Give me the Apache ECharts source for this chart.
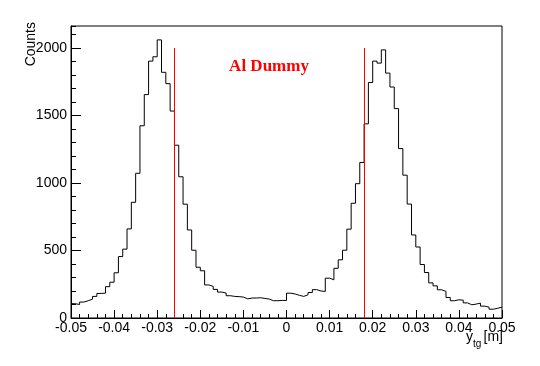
<!DOCTYPE html>
<html>
<head>
<meta charset="utf-8">
<script src="https://cdn.jsdelivr.net/npm/echarts@6/dist/echarts.min.js"></script>
<style>
  html, body { margin: 0; padding: 0; background: #fff; }
  #myChart { width: 540px; height: 366px; }
</style>
</head>
<body>
<div id="myChart"></div>
<script>
// histogram: 100 bins from -0.05 to 0.05 m
var binLow = -0.05
var binHigh = 0.05
var counts = [
  106, 100, 118, 128, 140, 160, 182, 184, 232, 265,
  335, 455, 510, 660, 857, 1072, 1424, 1655, 1903, 1935,
  2060, 1820, 1736, 1533, 1280, 1046, 843, 652, 502, 376,
  350, 245, 234, 212, 192, 185, 165, 160, 158, 155,
  142, 148, 148, 150, 145, 140, 128, 128, 130, 130,
  184, 178, 168, 160, 172, 189, 210, 200, 197, 295,
  283, 368, 431, 502, 658, 850, 995, 1152, 1438, 1744,
  1903, 1888, 1986, 1814, 1711, 1551, 1255, 1058, 844, 615,
  526, 396, 337, 260, 238, 209, 197, 152, 128, 135,
  132, 112, 98, 103, 110, 88, 80, 65, 72, 80
]
// red cut lines (x position, drawn from 0 up to cutTop)
var cutLines = [-0.026, 0.018]
var cutTop = 2000
var yMax = 2163

var font = 'Liberation Sans, Arial, sans-serif'

// bin left edges + last right edge, drawn as step line
var nBins = counts.length
var binW = (binHigh - binLow) / nBins
var histData = []
for (var i = 0; i < nBins; i++) {
  histData.push([binLow + i * binW, counts[i]])
}
histData.push([binHigh, counts[nBins - 1]])

var myChart = echarts.init(document.getElementById('myChart'))
myChart.setOption({
  animation: false,
  backgroundColor: '#fff',
  grid: {
    left: 71, right: 38, top: 26, bottom: 48,
    show: true, borderColor: '#000', borderWidth: 1
  },
  xAxis: {
    type: 'value',
    min: binLow, max: binHigh, interval: 0.01,
    axisLine: { onZero: false, lineStyle: { color: '#000', width: 1 } },
    axisTick: { inside: true, length: 8, lineStyle: { color: '#000' } },
    minorTick: { show: true, splitNumber: 5, length: 4, lineStyle: { color: '#000' } },
    splitLine: { show: false },
    axisLabel: { color: '#000', fontFamily: font, fontSize: 14, margin: 3, showMinLabel: true, showMaxLabel: true }
  },
  yAxis: [{
    type: 'value',
    min: 0, max: yMax, interval: 500,
    axisLine: { show: true, onZero: false, lineStyle: { color: '#000', width: 1 } },
    axisTick: { show: true, inside: true, length: 10, lineStyle: { color: '#000' } },
    splitLine: { show: false },
    axisLabel: {
      color: '#000', fontFamily: font, fontSize: 14, margin: 4, showMaxLabel: false,
      formatter: function (v) { return String(v) }
    }
  }, {
    type: 'value',
    position: 'left',
    min: 0, max: yMax, interval: 100,
    axisLine: { show: false, onZero: false },
    axisTick: { show: true, inside: true, length: 5, lineStyle: { color: '#000' } },
    splitLine: { show: false },
    axisLabel: { show: false }
  }],
  series: [{
    type: 'line',
    step: 'end',
    data: histData,
    symbol: 'none',
    lineStyle: { color: '#000', width: 1 },
    markLine: {
      silent: true,
      symbol: 'none',
      label: { show: false },
      lineStyle: { color: '#ff0000', width: 1, type: 'solid' },
      data: cutLines.map(function (x) {
        return [{ coord: [x, 0] }, { coord: [x, cutTop] }]
      })
    }
  }],
  graphic: [
    {
      type: 'text', x: 24, y: 22, rotation: Math.PI / 2,
      style: { text: 'Counts', fontFamily: font, fontSize: 14, fill: '#000', align: 'right', verticalAlign: 'top' }
    },
    {
      type: 'text', x: 269, y: 67,
      style: { text: 'Al Dummy', fontFamily: 'Liberation Serif, Times New Roman, serif', fontWeight: 'bold', fontSize: 17, fill: '#ff0000', align: 'center', verticalAlign: 'middle' }
    },
    {
      type: 'text', x: 466, y: 337,
      style: { text: 'y', fontFamily: font, fontSize: 14, fill: '#000', align: 'left', verticalAlign: 'middle' }
    },
    {
      type: 'text', x: 473, y: 344,
      style: { text: 'tg', fontFamily: font, fontSize: 10, fill: '#000', align: 'left', verticalAlign: 'middle' }
    },
    {
      type: 'text', x: 503, y: 337,
      style: { text: '[m]', fontFamily: font, fontSize: 14, fill: '#000', align: 'right', verticalAlign: 'middle' }
    }
  ]
})
</script>
</body>
</html>
